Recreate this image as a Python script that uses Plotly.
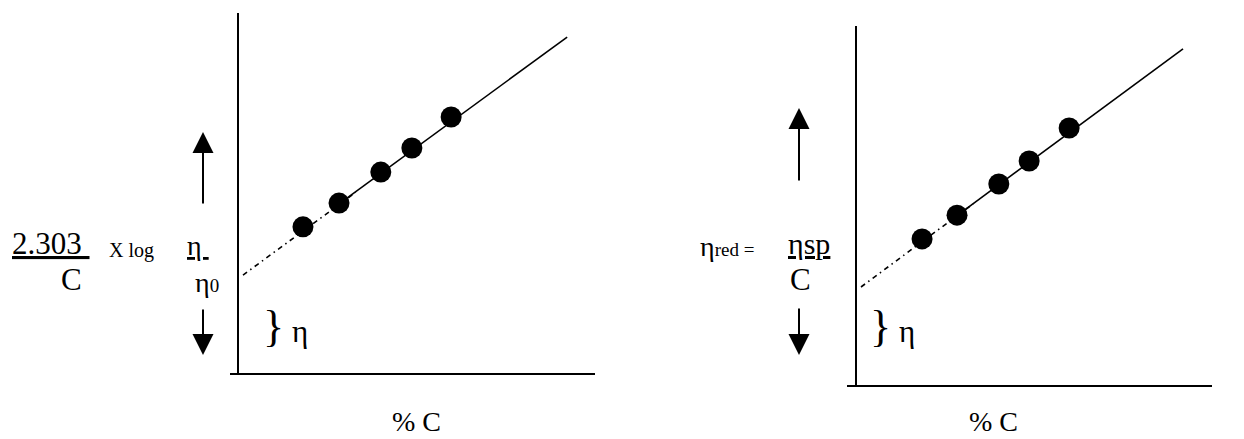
import plotly.graph_objects as go

# ---------------- data ----------------
# Left panel: inherent viscosity  (2.303/C) x log(eta/eta0)  vs  % C
conc_left = [1.82, 2.83, 4.00, 4.87, 5.97]
visc_left = [4.06, 4.72, 5.58, 6.25, 7.11]
fit_left_x = [2.83, 9.22]
fit_left_y = [4.70, 9.33]
extrap_left_x = [0.14, 3.30]
extrap_left_y = [2.72, 5.02]

# Right panel: reduced viscosity  eta_sp / C  vs  % C
conc_right = [1.85, 2.83, 4.00, 4.85, 5.97]
visc_right = [4.07, 4.73, 5.60, 6.24, 7.16]
fit_right_x = [2.83, 9.16]
fit_right_y = [4.72, 9.36]
extrap_right_x = [0.14, 3.30]
extrap_right_y = [2.73, 5.06]

x_label = "% C"

# ---------------- layout helpers ----------------
W, H = 1244, 439
FONT = "Liberation Serif, Times New Roman, serif"


def px(x):
    return x / W


def py(y):
    return 1 - y / H


fig = go.Figure()

DASH = "5px,4px,1.5px,4px"

for (cx, cy, fx, fy, ex, ey, xa, ya) in [
    (conc_left, visc_left, fit_left_x, fit_left_y, extrap_left_x, extrap_left_y, "x", "y"),
    (conc_right, visc_right, fit_right_x, fit_right_y, extrap_right_x, extrap_right_y, "x2", "y2"),
]:
    fig.add_trace(go.Scatter(x=ex, y=ey, mode="lines", xaxis=xa, yaxis=ya,
                             line=dict(color="black", width=1.6, dash=DASH),
                             hoverinfo="skip"))
    fig.add_trace(go.Scatter(x=fx, y=fy, mode="lines", xaxis=xa, yaxis=ya,
                             line=dict(color="black", width=1.6),
                             hoverinfo="skip"))
    fig.add_trace(go.Scatter(x=cx, y=cy, mode="markers", xaxis=xa, yaxis=ya,
                             marker=dict(color="black", size=21, line=dict(width=0))))

axis_common = dict(showgrid=False, zeroline=False, showticklabels=False, ticks="",
                   showline=True, linecolor="black", linewidth=2, fixedrange=True)

# pixel geometry of the two panels
L_origin_x, L_bottom, L_top, L_xstart, L_xend = 238, 373, 13, 230, 595
R_origin_x, R_bottom, R_top, R_xstart, R_xend = 856, 385, 26, 847, 1212
XU = 35.7  # px per x unit

fig.update_layout(
    width=W, height=H, autosize=False,
    margin=dict(l=0, r=0, t=0, b=0, pad=0),
    paper_bgcolor="white", plot_bgcolor="white",
    showlegend=False,
    xaxis=dict(domain=[px(L_xstart), px(L_xend)],
               range=[(L_xstart - L_origin_x) / XU, (L_xend - L_origin_x) / XU],
               anchor="y", **axis_common),
    yaxis=dict(domain=[py(L_bottom), py(L_top)], range=[0, 10],
               anchor="free", position=px(L_origin_x), **axis_common),
    xaxis2=dict(domain=[px(R_xstart), px(R_xend)],
                range=[(R_xstart - R_origin_x) / XU, (R_xend - R_origin_x) / XU],
                anchor="y2", **axis_common),
    yaxis2=dict(domain=[py(R_bottom), py(R_top)], range=[0, 10],
                anchor="free", position=px(R_origin_x), **axis_common),
)


def text(t, x, y, size, xanchor="center"):
    fig.add_annotation(text=t, x=px(x), y=py(y), xref="paper", yref="paper",
                       xanchor=xanchor, yanchor="middle", showarrow=False,
                       font=dict(family=FONT, size=size, color="black"))


def arrow(x, tail_y, tip_y):
    fig.add_annotation(x=px(x), y=py(tip_y), xref="paper", yref="paper",
                       ax=0, ay=tail_y - tip_y, axref="pixel", ayref="pixel",
                       text="", showarrow=True, arrowhead=2, arrowsize=2.1,
                       arrowwidth=2, arrowcolor="black", standoff=0, startstandoff=0)


# left y label: 2.303/C x log eta/eta0
text("<u>2.303\u00a0</u>", 51, 243, 31)
text("C", 71, 279, 31)
text("X log", 131, 250, 20)
text("<u>\u03b7\u00a0</u>", 198, 245, 28)
text("\u03b7<span style='font-size:19px'>0</span>", 207, 282, 28)
arrow(203, 205, 132)
arrow(203, 308, 355)

# right y label: eta_red = eta_sp / C
text("\u03b7<span style='font-size:19px'>red =</span>", 727, 246, 28)
text("<u>\u03b7sp</u>", 809, 243, 30)
text("C", 801, 279, 31)
arrow(799, 182, 108)
arrow(799, 307, 355)

# braces with eta near origin
text("}", 273, 326, 44)
text("\u03b7", 300, 331, 31)
text("}", 880, 326, 44)
text("\u03b7", 907, 331, 31)

# x-axis labels
text(x_label, 416, 421, 28)
text(x_label, 993, 421, 28)

fig.write_html("out.html", config={"displayModeBar": False},
               post_script="document.body.style.margin='0';document.body.style.overflow='hidden';")
